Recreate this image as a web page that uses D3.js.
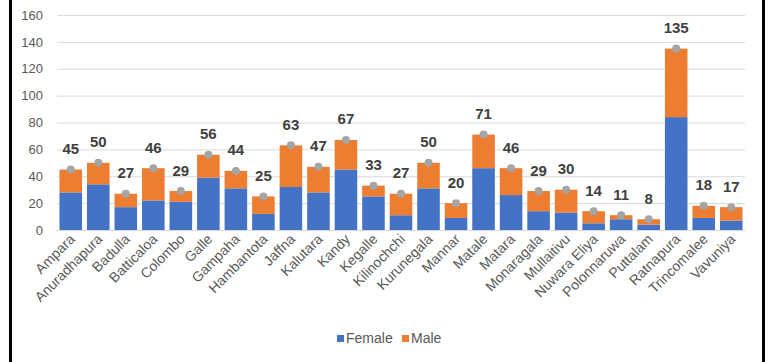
<!DOCTYPE html>
<html>
<head>
<meta charset="utf-8">
<script src="https://cdn.jsdelivr.net/npm/d3@7"></script>
<style>
  body { margin: 0; background: #fff; }
  svg { display: block; font-family: "Liberation Sans", Arial, sans-serif; }
</style>
</head>
<body>
<div id="chart"></div>
<script>
// districts on the x axis
var districts = ["Ampara", "Anuradhapura", "Badulla", "Batticaloa", "Colombo", "Galle",
  "Gampaha", "Hambantota", "Jaffna", "Kalutara", "Kandy", "Kegalle", "Kilinochchi",
  "Kurunegala", "Mannar", "Matale", "Matara", "Monaragala", "Mullaitivu", "Nuwara Eliya",
  "Polonnaruwa", "Puttalam", "Ratnapura", "Trincomalee", "Vavuniya"];

// stacked series
var female = [28, 34, 17, 22, 21, 39, 31, 12, 32, 28, 45, 25, 11, 31, 9, 46, 26, 14, 13, 5, 8, 4, 84, 9, 7];
var male   = [17, 16, 10, 24,  8, 17, 13, 13, 31, 19, 22,  8, 16, 19, 11, 25, 20, 15, 17, 9, 3, 4, 51, 9, 10];

// totals shown above the bars
var totals = [45, 50, 27, 46, 29, 56, 44, 25, 63, 47, 67, 33, 27, 50, 20, 71, 46, 29, 30, 14, 11, 8, 135, 18, 17];

var yTicks = [0, 20, 40, 60, 80, 100, 120, 140, 160];

var W = 770, H = 362;
var svg = d3.select("#chart").append("svg")
  .attr("width", W)
  .attr("height", H);

// frame lines at the left and right
svg.append("rect").attr("x", 9).attr("y", 0).attr("width", 3).attr("height", H).attr("fill", "#000");
svg.append("rect").attr("x", 762).attr("y", 0).attr("width", 3).attr("height", H).attr("fill", "#000");

var x = d3.scaleBand().domain(districts).range([57, 745]).paddingInner(0.18).paddingOuter(0.09);
var y = d3.scaleLinear().domain([0, 160]).range([230, 15]);

// gridlines
svg.append("g").selectAll("line")
  .data(yTicks)
  .enter().append("line")
  .attr("x1", 57).attr("x2", 745)
  .attr("y1", function(d) { return y(d) + 0.5; })
  .attr("y2", function(d) { return y(d) + 0.5; })
  .attr("stroke", "#d9d9d9")
  .attr("stroke-width", 1);

// y axis labels
var yAxis = d3.axisLeft(y).tickValues(yTicks).tickSize(0).tickPadding(0);
var gy = svg.append("g").attr("transform", "translate(43,0)").call(yAxis);
gy.select(".domain").remove();
gy.selectAll("text").attr("fill", "#595959").attr("font-size", "13px")
  .attr("font-family", "Liberation Sans, Arial, sans-serif");

// stacked data
var rows = districts.map(function(d, i) { return { district: d, Female: female[i], Male: male[i] }; });
var stack = d3.stack().keys(["Female", "Male"]);
var colors = { Female: "#4472c4", Male: "#ed7d31" };

svg.append("g").selectAll("g")
  .data(stack(rows))
  .enter().append("g")
  .attr("fill", function(d) { return colors[d.key]; })
  .selectAll("rect")
  .data(function(d) { return d; })
  .enter().append("rect")
  .attr("x", function(d) { return x(d.data.district); })
  .attr("width", x.bandwidth())
  .attr("y", function(d) { return y(d[1]); })
  .attr("height", function(d) { return y(d[0]) - y(d[1]); });

// total markers
svg.append("g").selectAll("circle")
  .data(totals)
  .enter().append("circle")
  .attr("cx", function(d, i) { return x(districts[i]) + x.bandwidth() / 2; })
  .attr("cy", function(d) { return y(d); })
  .attr("r", 4)
  .attr("fill", "#a5a5a5");

// total labels
svg.append("g").selectAll("text")
  .data(totals)
  .enter().append("text")
  .attr("x", function(d, i) { return x(districts[i]) + x.bandwidth() / 2; })
  .attr("y", function(d) { return y(d) - 15.5; })
  .attr("text-anchor", "middle")
  .attr("font-size", "15px")
  .attr("font-weight", "bold")
  .attr("fill", "#404040")
  .text(function(d) { return d; });

// x axis labels, rotated
svg.append("g").selectAll("text")
  .data(districts)
  .enter().append("text")
  .attr("transform", function(d) {
    return "translate(" + (x(d) + x.bandwidth() / 2 + 5) + ",240) rotate(-45)";
  })
  .attr("text-anchor", "end")
  .attr("font-size", "14px")
  .attr("fill", "#595959")
  .text(function(d) { return d; });

// legend
var legend = svg.append("g").attr("transform", "translate(337,335)");
var keys = ["Female", "Male"];
var lx = [0, 65];
keys.forEach(function(k, i) {
  legend.append("rect").attr("x", lx[i]).attr("y", 0).attr("width", 7).attr("height", 7).attr("fill", colors[k]);
  legend.append("text").attr("x", lx[i] + 9).attr("y", 8)
    .attr("font-size", "14px").attr("fill", "#595959").text(k);
});
</script>
</body>
</html>
